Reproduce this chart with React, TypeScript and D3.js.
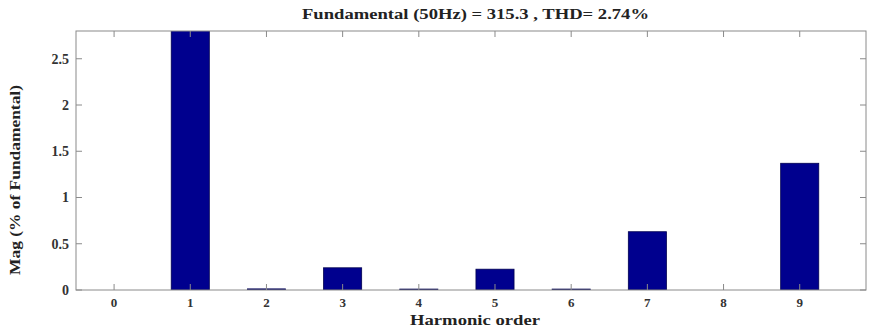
import React, { useEffect, useRef } from 'react';
import * as d3 from 'd3';

const harmonics = [0, 1, 2, 3, 4, 5, 6, 7, 8, 9];
const magnitudes = [0, 100, 0.012, 0.24, 0.01, 0.225, 0.01, 0.63, 0, 1.37];
const yTicks = [0, 0.5, 1, 1.5, 2, 2.5];
const yTickLabels = ['0', '0.5', '1', '1.5', '2', '2.5'];
const titleText = 'Fundamental (50Hz) = 315.3 , THD= 2.74%';

const App = () => {
    const svgRef = useRef<SVGSVGElement>(null);

    useEffect(() => {
        const width = 869;
        const height = 327;
        const margin = { top: 31, right: 3, bottom: 37, left: 76 };
        const innerWidth = width - margin.left - margin.right;
        const innerHeight = height - margin.top - margin.bottom;

        const svg = d3.select(svgRef.current);
        svg.selectAll('*').remove();
        svg.attr('width', width).attr('height', height);

        const font = '"Liberation Serif", "DejaVu Serif", serif';
        const axisColor = '#8a8a8a';
        const textColor = '#333';

        svg.append('defs')
            .append('clipPath')
            .attr('id', 'plot-clip')
            .append('rect')
            .attr('width', innerWidth)
            .attr('height', innerHeight);

        const g = svg.append('g').attr('transform', `translate(${margin.left},${margin.top})`);

        const x = d3.scaleLinear().domain([-0.5, 9.87]).range([0, innerWidth]);
        const y = d3.scaleLinear().domain([0, 2.8]).range([innerHeight, 0]);
        const barW = x(0.5) - x(0);

        // Bars
        g.append('g')
            .attr('clip-path', 'url(#plot-clip)')
            .selectAll('rect')
            .data(harmonics)
            .enter()
            .append('rect')
            .attr('x', d => x(d) - barW / 2)
            .attr('y', (d, i) => y(magnitudes[i]))
            .attr('width', barW)
            .attr('height', (d, i) => Math.max(0, innerHeight - y(magnitudes[i])))
            .attr('fill', '#00008e')
            .attr('stroke', '#000050')
            .attr('stroke-width', 0.8);

        // Box
        g.append('rect')
            .attr('width', innerWidth)
            .attr('height', innerHeight)
            .attr('fill', 'none')
            .attr('stroke', axisColor)
            .attr('stroke-width', 1);

        const tickLen = 6;
        // x ticks (bottom + top, inward)
        harmonics.forEach(h => {
            const px = x(h);
            g.append('line').attr('x1', px).attr('x2', px).attr('y1', innerHeight).attr('y2', innerHeight - tickLen).attr('stroke', axisColor);
            g.append('line').attr('x1', px).attr('x2', px).attr('y1', 0).attr('y2', tickLen).attr('stroke', axisColor);
            g.append('text')
                .attr('x', px)
                .attr('y', innerHeight + 17)
                .attr('text-anchor', 'middle')
                .style('font-family', font)
                .style('font-size', '13px')
                .style('font-weight', 'bold')
                .style('fill', textColor)
                .text(String(h));
        });

        // y ticks (left + right, inward)
        yTicks.forEach((t, i) => {
            const py = y(t);
            g.append('line').attr('x1', 0).attr('x2', tickLen).attr('y1', py).attr('y2', py).attr('stroke', axisColor);
            g.append('line').attr('x1', innerWidth).attr('x2', innerWidth - tickLen).attr('y1', py).attr('y2', py).attr('stroke', axisColor);
            g.append('text')
                .attr('x', -7)
                .attr('y', py)
                .attr('dy', '0.35em')
                .attr('text-anchor', 'end')
                .style('font-family', font)
                .style('font-size', '14px')
                .style('font-weight', 'bold')
                .style('fill', textColor)
                .text(yTickLabels[i]);
        });

        // Title
        svg.append('text')
            .attr('x', 302)
            .attr('y', 19)
            .attr('textLength', 347)
            .attr('lengthAdjust', 'spacingAndGlyphs')
            .style('font-family', font)
            .style('font-size', '15px')
            .style('font-weight', 'bold')
            .style('fill', '#222')
            .text(titleText);

        // x label
        svg.append('text')
            .attr('x', 410)
            .attr('y', 325)
            .attr('textLength', 130)
            .attr('lengthAdjust', 'spacingAndGlyphs')
            .style('font-family', font)
            .style('font-size', '15px')
            .style('font-weight', 'bold')
            .style('fill', '#222')
            .text('Harmonic order');

        // y label
        svg.append('text')
            .attr('transform', `translate(20,275) rotate(-90)`)
            .attr('textLength', 190)
            .attr('lengthAdjust', 'spacingAndGlyphs')
            .style('font-family', font)
            .style('font-size', '14px')
            .style('font-weight', 'bold')
            .style('fill', '#222')
            .text('Mag (% of Fundamental)');
    }, []);

    return (
        <div style={{ position: 'absolute', left: 0, top: 0 }}>
            <svg ref={svgRef} style={{ display: 'block' }}></svg>
        </div>
    );
};

export default App;
